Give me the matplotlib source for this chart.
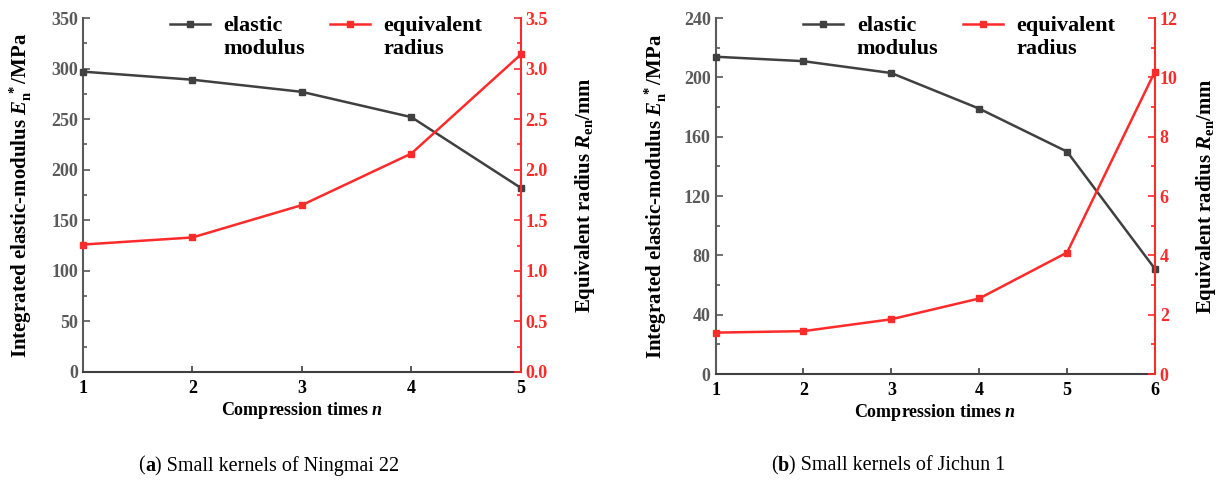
import numpy as np
import matplotlib.pyplot as plt
from matplotlib.ticker import MultipleLocator, FormatStrFormatter
from matplotlib.legend_handler import HandlerLine2D

plt.rcParams["font.family"] = ["Liberation Serif", "DejaVu Serif"]
plt.rcParams["font.weight"] = "bold"
plt.rcParams["mathtext.fontset"] = "custom"
plt.rcParams["mathtext.rm"] = "Liberation Serif:bold"
plt.rcParams["mathtext.it"] = "Liberation Serif:bold:italic"
plt.rcParams["mathtext.bf"] = "Liberation Serif:bold"

# (a) Ningmai 22
n_a = [1, 2, 3, 4, 5]
modulus_a = [297, 289, 277, 252, 182]
radius_a = [1.26, 1.33, 1.65, 2.16, 3.14]

# (b) Jichun 1
n_b = [1, 2, 3, 4, 5, 6]
modulus_b = [214, 211, 203, 179, 150, 71]
radius_b = [1.40, 1.45, 1.85, 2.55, 4.10, 10.20]

captions = ["Small kernels of Ningmai 22", "Small kernels of Jichun 1"]
letters = ["a", "b"]

BLACK = "#404040"
GRAY = "#5a5a5a"
RED = "#ff2a2a"
LEG_FS = 16


class TopLineHandler(HandlerLine2D):
    # put the legend sample level with the first line of a two-line label
    def create_artists(self, legend, orig_handle, xdescent, ydescent,
                       width, height, fontsize, trans):
        arts = super().create_artists(legend, orig_handle, xdescent, ydescent,
                                      width, height, fontsize, trans)
        for a in arts:
            a.set_ydata(np.asarray(a.get_ydata()) + 0.6 * fontsize)
        return arts


def draw_panel(fig, rect, n, modulus, radius, ylim1, ystep1, ylim2, ystep2, fmt2,
               lpad, rpad):
    ax = fig.add_axes(rect)
    ax2 = ax.twinx()

    l1, = ax.plot(n, modulus, color=BLACK, lw=1.8, marker="s", ms=5,
                  label="elastic\nmodulus", zorder=3, clip_on=False)
    l2, = ax2.plot(n, radius, color=RED, lw=1.8, marker="s", ms=5,
                   label="equivalent\nradius", zorder=3, clip_on=False)

    ax.set_xlim(n[0], n[-1])
    ax.set_ylim(*ylim1)
    ax2.set_ylim(*ylim2)
    ax.xaxis.set_major_locator(MultipleLocator(1))
    ax.yaxis.set_major_locator(MultipleLocator(ystep1))
    ax.yaxis.set_minor_locator(MultipleLocator(ystep1 / 2))
    ax2.yaxis.set_major_locator(MultipleLocator(ystep2))
    ax2.yaxis.set_minor_locator(MultipleLocator(ystep2 / 2))
    ax2.yaxis.set_major_formatter(FormatStrFormatter(fmt2))

    for a in (ax, ax2):
        a.spines["top"].set_visible(False)
    ax.spines["left"].set_color(GRAY)
    ax.spines["bottom"].set_color(BLACK)
    ax.spines["right"].set_visible(False)
    ax2.spines["left"].set_visible(False)
    ax2.spines["bottom"].set_visible(False)
    ax2.spines["right"].set_color(RED)
    for s in ("left", "bottom"):
        ax.spines[s].set_linewidth(1.5)
    ax2.spines["right"].set_linewidth(1.5)

    ax.tick_params(axis="y", which="both", direction="in", colors=GRAY,
                   labelsize=13, width=1.2)
    ax.tick_params(axis="y", which="major", length=5)
    ax.tick_params(axis="y", which="minor", length=3)
    ax.tick_params(axis="x", direction="in", colors=BLACK, labelcolor="black",
                   labelsize=13, length=4, width=1.2, pad=6)
    ax2.tick_params(axis="y", which="both", direction="in", colors=RED,
                    labelsize=13, width=1.2)
    ax2.tick_params(axis="y", which="major", length=5)
    ax2.tick_params(axis="y", which="minor", length=3)

    ax.set_xlabel(r"$\text{Compression times }n$", fontsize=13, labelpad=2)
    ax.set_ylabel(r"$\text{Integrated elastic-modulus }E_{\mathrm{n}}^{\ *}\text{/MPa}$",
                  fontsize=15, labelpad=lpad)
    ax2.set_ylabel(r"$\text{Equivalent radius }R_{\mathrm{en}}\text{/mm}$",
                   fontsize=15, labelpad=rpad)

    ax.legend(handles=[l1, l2], loc="upper left", bbox_to_anchor=(0.20, 1.005),
              ncol=2, frameon=False, borderpad=0, borderaxespad=0,
              handlelength=1.8, columnspacing=1.1, handletextpad=0.6,
              labelspacing=0.2, prop={"weight": "bold", "size": LEG_FS},
              handler_map={l1: TopLineHandler(), l2: TopLineHandler()})
    return ax


def add_caption(fig, xc, y, letter, text, size=14.5):
    renderer = fig.canvas.get_renderer()
    parts = [("(", "normal"), (letter, "bold"), (") " + text, "normal")]
    texts = [fig.text(0, y, s, fontsize=size, fontweight=w, va="center")
             for s, w in parts]
    widths = [t.get_window_extent(renderer).width for t in texts]
    W = fig.bbox.width
    x = xc * W - sum(widths) / 2
    for t, w in zip(texts, widths):
        t.set_x(x / W)
        x += w


fig = plt.figure(figsize=(12.17, 4.91), dpi=100)

draw_panel(fig, [0.068, 0.2424, 0.360, 0.7209], n_a, modulus_a, radius_a,
           (0, 350), 50, (0, 3.5), 0.5, "%.1f", lpad=12, rpad=18)
draw_panel(fig, [0.588, 0.238, 0.361, 0.725], n_b, modulus_b, radius_b,
           (0, 240), 40, (0, 12), 2, "%d", lpad=11, rpad=12)

add_caption(fig, 0.221, 0.051, letters[0], captions[0])
add_caption(fig, 0.730, 0.051, letters[1], captions[1])

fig.savefig("out.png", dpi=100)
